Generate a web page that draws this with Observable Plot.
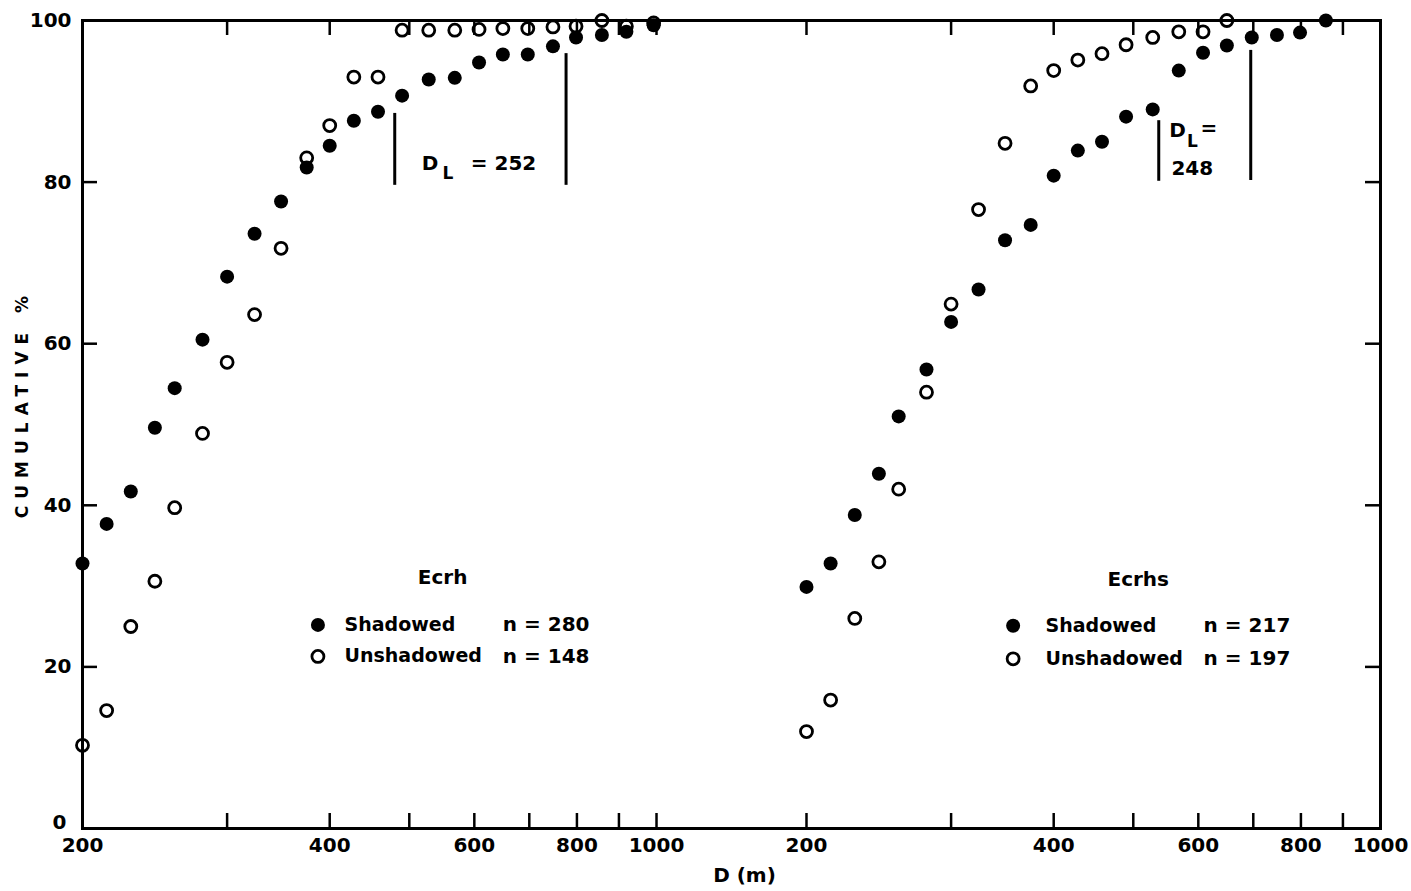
<!DOCTYPE html>
<html><head><meta charset="utf-8">
<script src="https://cdn.jsdelivr.net/npm/d3@7"></script>
<script src="https://cdn.jsdelivr.net/npm/@observablehq/plot@0.6"></script>
<style>
html,body{margin:0;padding:0;background:#fff;}
#chart svg{display:block;}
</style></head><body><div id="chart"></div>
<script>
// ---------- data ----------
const panels = ["Ecrh", "Ecrhs"];
const binD = [200, 214, 229, 245, 259, 280, 300, 324, 349, 375, 400, 428, 458, 490, 528, 568, 608, 650, 697, 748, 798, 858, 919, 992];
const ecrhShadowed   = [32.8, 37.7, 41.7, 49.6, 54.5, 60.5, 68.3, 73.6, 77.6, 81.8, 84.5, 87.6, 88.7, 90.7, 92.7, 92.9, 94.8, 95.8, 95.8, 96.8, 97.9, 98.2, 98.6, 99.4];
const ecrhUnshadowed = [10.3, 14.6, 25.0, 30.6, 39.7, 48.9, 57.7, 63.6, 71.8, 83.0, 87.0, 93.0, 93.0, 98.8, 98.8, 98.8, 98.9, 99.0, 99.0, 99.2, 99.3, 100, 99.3, 99.7];
const ecrhsShadowed   = [29.9, 32.8, 38.8, 43.9, 51.0, 56.8, 62.7, 66.7, 72.8, 74.7, 80.8, 83.9, 85.0, 88.1, 89.0, 93.8, 96.0, 96.9, 97.9, 98.2, 98.5, 100];
const ecrhsUnshadowed = [12.0, 15.9, 26.0, 33.0, 42.0, 54.0, 64.9, 76.6, 84.8, 91.9, 93.8, 95.1, 95.9, 97.0, 97.9, 98.6, 98.6, 100];

const tickD = [200, 300, 400, 500, 600, 700, 800, 900, 1000];
const tickLabels = [200, 400, 600, 800, 1000];
const yTicks = [20, 40, 60, 80];
const yLabels = [20, 40, 60, 80, 100];

// D_L marker lines
const dlPanel  = ["Ecrh", "Ecrh", "Ecrhs", "Ecrhs"];
const dlD      = [480, 776, 537, 695];
const dlTop    = [88.5, 95.9, 87.6, 96.3];
const dlBottom = [79.6, 79.6, 80.1, 80.2];
// D_L annotation texts
const annPanel = ["Ecrh", "Ecrh", "Ecrhs", "Ecrhs", "Ecrhs"];
const annD     = [530, 594, 566, 618, 590];
const annPct   = [82.3, 82.3, 86.4, 86.6, 81.7];
const annText  = ["D", "= 252", "D", "=", "248"];
const annAnchor = ["middle", "start", "middle", "middle", "middle"];
const subPanel = ["Ecrh", "Ecrhs"];
const subD     = [557, 590];
const subPct   = [81.1, 85.0];

// legends
const legTitle   = ["Ecrh", "Ecrhs"];
const legTitleD  = [549, 507];
const legTitlePct = [31.1, 30.8];
const legSymD    = [387, 357];
const legShadPct = [25.2, 25.1];
const legUnshPct = [21.3, 21.0];
const legTextD   = [417, 391];
const legND      = [650, 609];
const legNShad   = ["n = 280", "n = 217"];
const legNUnsh   = ["n = 148", "n = 197"];

// ---------- build ----------
const SHIFT = 0.8816; // horizontal offset (in decades) of the second panel
const u = (D, panel) => Math.log10(D) + (panel === panels[1] ? SHIFT : 0);

const series = [
  {panel: "Ecrh", group: "Shadowed", values: ecrhShadowed},
  {panel: "Ecrh", group: "Unshadowed", values: ecrhUnshadowed},
  {panel: "Ecrhs", group: "Shadowed", values: ecrhsShadowed},
  {panel: "Ecrhs", group: "Unshadowed", values: ecrhsUnshadowed}
];
const rows = series.flatMap(s => s.values.map((v, i) => ({panel: s.panel, group: s.group, D: binD[i], pct: v})));
const tickRows = panels.flatMap(p => tickD.map(D => ({panel: p, D})));
const labelRows = panels.flatMap(p => tickLabels.map(D => ({panel: p, D})));
const dlRows = dlPanel.map((p, i) => ({panel: p, D: dlD[i], y1: dlBottom[i], y2: dlTop[i]}));
const annRows = annPanel.map((p, i) => ({panel: p, D: annD[i], pct: annPct[i], text: annText[i], anchor: annAnchor[i]}));
const subRows = subPanel.map((p, i) => ({panel: p, D: subD[i], pct: subPct[i]}));
const legRows = panels.map((p, i) => ({panel: p, title: legTitle[i], tD: legTitleD[i], tPct: legTitlePct[i],
  sD: legSymD[i], shad: legShadPct[i], unsh: legUnshPct[i], xD: legTextD[i], nD: legND[i], nS: legNShad[i], nU: legNUnsh[i]}));

const W = 1411, H = 891, mL = 82, mR = 31, mT = 20, mB = 63;
const innerW = W - mL - mR, innerH = H - mT - mB, TICK = 15;
const font = {fontFamily: "DejaVu Sans", fontWeight: "bold", fill: "black"};

const chart = Plot.plot({
  width: W, height: H,
  marginLeft: mL, marginRight: mR, marginTop: mT, marginBottom: mB,
  x: {type: "linear", domain: [Math.log10(200), 3 + SHIFT], axis: null},
  y: {domain: [0, 100], axis: null},
  style: {background: "white", color: "black", fontFamily: "DejaVu Sans"},
  marks: [
    // ticks inward
    Plot.ruleX(tickRows, {x: d => u(d.D, d.panel), insetTop: innerH - TICK, stroke: "black", strokeWidth: 2.5}),
    Plot.ruleX(tickRows, {x: d => u(d.D, d.panel), insetBottom: innerH - TICK, stroke: "black", strokeWidth: 2.5}),
    Plot.ruleY(yTicks, {y: d => d, insetRight: innerW - TICK, stroke: "black", strokeWidth: 2.5}),
    Plot.ruleY(yTicks, {y: d => d, insetLeft: innerW - TICK, stroke: "black", strokeWidth: 2.5}),
    Plot.frame({stroke: "black", strokeWidth: 3}),
    // tick labels
    Plot.text(labelRows, {x: d => u(d.D, d.panel), text: d => String(d.D), frameAnchor: "bottom", dy: 23, fontSize: 20, ...font}),
    Plot.text(yLabels, {y: d => d, text: d => String(d), frameAnchor: "left", dx: -11, textAnchor: "end", fontSize: 20, ...font}),
    Plot.text([0], {y: d => d, text: d => String(d), frameAnchor: "left", dx: -16, dy: -6, textAnchor: "end", fontSize: 20, ...font}),
    Plot.text(["CUMULATIVE %"], {text: d => d, frameAnchor: "left", textAnchor: "middle", rotate: -90, dx: -60, dy: -21, fontSize: 17, ...font}),
    Plot.text(["D (m)"], {text: d => d, frameAnchor: "bottom", dx: 13, dy: 53, fontSize: 20, ...font}),
    // D_L markers
    Plot.ruleX(dlRows, {x: d => u(d.D, d.panel), y1: "y1", y2: "y2", stroke: "black", strokeWidth: 3}),
    Plot.text(annRows.filter(d => d.anchor === "start"), {x: d => u(d.D, d.panel), y: "pct", text: "text", textAnchor: "start", fontSize: 20, ...font}),
    Plot.text(annRows.filter(d => d.anchor !== "start"), {x: d => u(d.D, d.panel), y: "pct", text: "text", fontSize: 20, ...font}),
    Plot.text(subRows, {x: d => u(d.D, d.panel), y: "pct", text: () => "L", fontSize: 17, ...font}),
    // data points
    Plot.dot(rows.filter(d => d.group === "Shadowed"), {x: d => u(d.D, d.panel), y: "pct", r: 7, fill: "black", stroke: null}),
    Plot.dot(rows.filter(d => d.group === "Unshadowed"), {x: d => u(d.D, d.panel), y: "pct", r: 6, fill: "none", stroke: "black", strokeWidth: 2.8}),
    // legends
    Plot.text(legRows, {x: d => u(d.tD, d.panel), y: "tPct", text: "title", fontSize: 20, ...font}),
    Plot.dot(legRows, {x: d => u(d.sD, d.panel), y: "shad", r: 7, fill: "black", stroke: null}),
    Plot.dot(legRows, {x: d => u(d.sD, d.panel), y: "unsh", r: 6, fill: "none", stroke: "black", strokeWidth: 2.8}),
    Plot.text(legRows, {x: d => u(d.xD, d.panel), y: "shad", text: () => "Shadowed", textAnchor: "start", fontSize: 19, ...font}),
    Plot.text(legRows, {x: d => u(d.xD, d.panel), y: "unsh", text: () => "Unshadowed", textAnchor: "start", fontSize: 19, ...font}),
    Plot.text(legRows, {x: d => u(d.nD, d.panel), y: "shad", text: "nS", textAnchor: "start", fontSize: 20, ...font}),
    Plot.text(legRows, {x: d => u(d.nD, d.panel), y: "unsh", text: "nU", textAnchor: "start", fontSize: 20, ...font})
  ]
});
d3.select(chart).selectAll("text").filter(function() { return this.textContent === "CUMULATIVE %"; })
  .attr("letter-spacing", "7px");
document.getElementById("chart").append(chart);
</script>
</body></html>
